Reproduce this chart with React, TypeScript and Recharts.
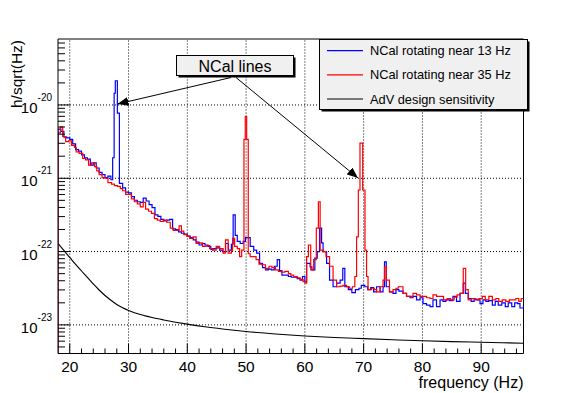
import React from 'react';
import { LineChart, Line, XAxis, YAxis, ReferenceLine } from 'recharts';

// ---- data (frequency in Hz, log10 of strain amplitude h/sqrt(Hz)) ----
const blueSpectrum: [number, number][] = [
  [18, -20.33], [18.5, -20.36], [19, -20.44], [19.5, -20.45], [20, -20.47], [20.5, -20.53], [21, -20.61], [21.5, -20.63],
  [22, -20.68], [22.5, -20.72], [23, -20.74], [23.5, -20.82], [24, -20.79], [24.5, -20.86], [25, -20.92], [25.5, -20.95],
  [26, -20.99], [26.5, -20.97], [27, -21.02], [27.3, -20.72], [27.55, -19.84], [27.75, -19.67], [28.1, -20.11], [28.45, -21.07],
  [29, -21.13], [29.5, -21.19], [30, -21.2], [30.5, -21.25], [31, -21.3], [31.5, -21.32], [32, -21.33], [32.5, -21.27],
  [33, -21.31], [33.5, -21.36], [34, -21.4], [34.5, -21.5], [35, -21.52], [35.5, -21.56], [36, -21.58], [36.5, -21.57],
  [37, -21.56], [37.5, -21.69], [38, -21.7], [38.5, -21.73], [39, -21.75], [39.5, -21.76], [40, -21.79], [40.5, -21.81],
  [41, -21.84], [41.5, -21.87], [42, -21.91], [42.5, -21.89], [43, -21.91], [43.5, -21.93], [44, -21.97], [44.5, -21.96],
  [45, -21.95], [45.5, -21.98], [46, -22.0], [46.5, -21.89], [47, -21.98], [47.5, -21.9], [47.8, -21.5], [48.15, -21.78],
  [48.5, -21.86], [49, -21.89], [49.5, -21.86], [49.9, -21.81], [50.7, -21.93], [51.3, -21.98], [51.8, -22.02], [52.3, -22.16],
  [52.8, -22.22], [53.3, -22.25], [53.8, -22.24], [54.3, -22.25], [54.8, -22.2], [55.3, -22.11], [55.7, -22.26], [56.1, -22.32],
  [56.6, -22.32], [57.2, -22.34], [57.7, -22.35], [58.2, -22.35], [58.7, -22.37], [59.2, -22.39], [59.6, -22.34], [60, -22.41],
  [60.3, -22.16], [60.9, -22.21], [61.2, -22.25], [61.7, -22.09], [62.1, -22.0], [62.5, -21.68], [62.85, -21.88], [63.1, -22.0],
  [63.7, -22.16], [64.2, -22.39], [64.8, -22.48], [65.4, -22.43], [66, -22.39], [66.45, -22.23], [66.8, -22.48], [67.4, -22.52],
  [68, -22.56], [68.6, -22.52], [69.2, -22.5], [69.6, -22.46], [70.2, -22.48], [70.7, -22.52], [71.2, -22.49], [71.7, -22.55],
  [72.2, -22.48], [72.8, -22.55], [73.3, -22.48], [73.55, -22.14], [73.85, -22.48], [74.4, -22.55], [75, -22.57], [75.5, -22.52],
  [76, -22.54], [76.7, -22.57], [77.3, -22.61], [77.9, -22.63], [78.4, -22.61], [79, -22.66], [79.6, -22.63], [80.1, -22.71],
  [80.7, -22.73], [81.3, -22.75], [81.8, -22.66], [82.4, -22.75], [83, -22.66], [83.5, -22.68], [84, -22.66], [84.6, -22.67],
  [85.2, -22.61], [85.8, -22.68], [86.4, -22.57], [86.95, -22.43], [87.3, -22.57], [87.8, -22.64], [88.3, -22.68], [88.8, -22.65],
  [89.3, -22.66], [89.8, -22.71], [90.3, -22.66], [90.8, -22.68], [91.3, -22.67], [91.9, -22.73], [92.4, -22.68], [92.9, -22.73],
  [93.5, -22.7], [94.1, -22.75], [94.6, -22.7], [95.2, -22.75], [95.7, -22.7], [96.2, -22.71], [96.6, -22.77], [97.2, -22.73],
];

const redSpectrum: [number, number][] = [
  [18, -20.38], [18.4, -20.3], [18.8, -20.43], [19.3, -20.5], [19.8, -20.49], [20.3, -20.55], [20.8, -20.58], [21.1, -20.64],
  [21.6, -20.66], [22.2, -20.73], [22.7, -20.75], [23.2, -20.82], [23.7, -20.79], [24.2, -20.84], [24.6, -20.9], [25, -20.95],
  [25.5, -20.99], [26, -21.0], [26.5, -21.06], [27.1, -21.08], [27.6, -21.1], [28.1, -21.11], [28.6, -21.14], [29, -21.17],
  [29.5, -21.22], [30, -21.22], [30.5, -21.28], [31, -21.32], [31.5, -21.35], [32, -21.39], [32.5, -21.33], [32.9, -21.42],
  [33.4, -21.45], [33.9, -21.48], [34.4, -21.55], [34.9, -21.57], [35.4, -21.59], [35.9, -21.57], [36.5, -21.6], [37.1, -21.68],
  [37.6, -21.71], [38.2, -21.71], [38.6, -21.65], [39, -21.72], [39.4, -21.77], [39.9, -21.79], [40.4, -21.82], [41, -21.8],
  [41.5, -21.89], [42.1, -21.88], [42.6, -21.93], [43.2, -21.92], [43.8, -21.96], [44.3, -21.98], [44.9, -21.93], [45.5, -21.96],
  [46.1, -22.02], [46.5, -21.84], [46.95, -22.02], [47.5, -21.98], [47.7, -21.82], [48.05, -21.93], [48.5, -21.96], [48.9, -22.07],
  [49.25, -21.98], [49.64, -20.47], [49.86, -20.16], [50.1, -20.47], [50.37, -22.03], [50.7, -22.07], [51.2, -22.07], [51.7, -22.11],
  [52.2, -22.17], [52.7, -22.18], [53.3, -22.23], [53.9, -22.2], [54.4, -22.22], [55, -22.25], [55.5, -22.27], [56, -22.28],
  [56.6, -22.27], [57.2, -22.3], [57.6, -22.32], [58.1, -22.34], [58.7, -22.36], [59.2, -22.38], [59.7, -22.41], [60, -22.43],
  [60.3, -22.07], [60.6, -21.91], [61, -22.25], [61.5, -22.11], [61.95, -21.68], [62.3, -21.32], [62.6, -21.98], [63.1, -22.0],
  [63.6, -22.07], [64.2, -22.2], [64.8, -22.39], [65.4, -22.48], [66, -22.47], [66.5, -22.46], [67.1, -22.48], [67.6, -22.5],
  [68.1, -22.48], [68.5, -22.34], [68.8, -21.8], [69.1, -21.16], [69.38, -20.52], [69.84, -21.16], [70.23, -21.98], [70.5, -22.34],
  [70.75, -22.52], [71.3, -22.5], [71.8, -22.52], [72.2, -22.55], [72.8, -22.48], [73.3, -22.39], [73.55, -22.21], [73.85, -22.39],
  [74.4, -22.55], [75, -22.52], [75.5, -22.5], [75.9, -22.48], [76.7, -22.57], [77.3, -22.61], [77.9, -22.61], [78.4, -22.57],
  [79, -22.59], [79.6, -22.61], [80.1, -22.61], [80.7, -22.63], [81.3, -22.64], [81.8, -22.59], [82.4, -22.61], [83, -22.61],
  [83.6, -22.66], [84.2, -22.64], [84.8, -22.66], [85.4, -22.62], [85.9, -22.59], [86.4, -22.57], [86.95, -22.23], [87.36, -22.52],
  [87.8, -22.66], [88.4, -22.64], [89, -22.66], [89.6, -22.64], [90.2, -22.61], [90.7, -22.66], [91.3, -22.61], [91.9, -22.66],
  [92.5, -22.64], [93, -22.68], [93.6, -22.66], [94.2, -22.68], [94.8, -22.66], [95.3, -22.66], [95.9, -22.64], [96.4, -22.68],
  [96.8, -22.64], [97.2, -22.64],
];

const advDesign: [number, number][] = [
  [18, -21.887], [19, -21.985], [20, -22.08], [21, -22.176], [22, -22.265], [23, -22.353], [24, -22.442], [25, -22.524],
  [26, -22.599], [27, -22.664], [28, -22.722], [29, -22.767], [30, -22.804], [31, -22.834], [32, -22.859], [33, -22.881],
  [34, -22.9], [36, -22.933], [38, -22.963], [40, -22.99], [43, -23.026], [46, -23.056], [50, -23.09], [55, -23.124],
  [60, -23.151], [65, -23.172], [70, -23.188], [75, -23.203], [80, -23.217], [85, -23.228], [90, -23.237], [97.2, -23.25],
];

const xTicks = [20, 22, 24, 26, 28, 30, 32, 34, 36, 38, 40, 42, 44, 46, 48, 50, 52, 54, 56, 58, 60, 62, 64, 66, 68, 70,
  72, 74, 76, 78, 80, 82, 84, 86, 88, 90, 92, 94, 96];
const yTicks = [5e-24, 6e-24, 7e-24, 8e-24, 9e-24, 1e-23, 2e-23, 3e-23, 4e-23, 5e-23, 6e-23, 7e-23, 8e-23, 9e-23,
  1e-22, 2e-22, 3e-22, 4e-22, 5e-22, 6e-22, 7e-22, 8e-22, 9e-22, 1e-21, 2e-21, 3e-21, 4e-21, 5e-21, 6e-21, 7e-21,
  8e-21, 9e-21, 1e-20, 2e-20, 3e-20, 4e-20, 5e-20, 6e-20, 7e-20];
const xGrid = [20, 30, 40, 50, 60, 70, 80, 90];
const yGrid = [1e-23, 1e-22, 1e-21, 1e-20];

const legendItems = [
  { label: 'NCal rotating near 13 Hz', color: '#0000ff' },
  { label: 'NCal rotating near 35 Hz', color: '#ff0000' },
  { label: 'AdV design sensitivity', color: '#000000' },
];

// ---- layout ----
const W = 581;
const H = 393;
const X_MIN = 18;
const X_MAX = 97.2;
const Y_MIN = 4.07e-24;
const Y_MAX = 7.94e-20;
const PL = 58;
const PT = 39;
const PR = 523.5;
const PB = 353.5;
const FONT = "'Liberation Sans', Arial, Helvetica, sans-serif";

const toHist = (pairs: [number, number][]) => [
  { f: X_MIN, v: Y_MIN },
  ...pairs.map(([f, l]) => ({ f, v: Math.pow(10, l) })),
];
const toCurve = (pairs: [number, number][]) => pairs.map(([f, l]) => ({ f, v: Math.pow(10, l) }));

const blueData = toHist(blueSpectrum);
const redData = toHist(redSpectrum);
const blackData = toCurve(advDesign);

const XTick = (props: any) => {
  const { x, payload } = props;
  const v = payload.value as number;
  const major = v % 10 === 0;
  return (
    <g>
      <line x1={x} x2={x} y1={PB} y2={PB - (major ? 10 : 5)} stroke="#000" strokeWidth={1} />
      {major && (
        <text x={x} y={372} textAnchor="middle" fontSize={15.5} fontFamily={FONT} fill="#000">
          {v}
        </text>
      )}
    </g>
  );
};

const YTick = (props: any) => {
  const { y, payload } = props;
  const v = payload.value as number;
  const e = Math.log10(v);
  const major = Math.abs(e - Math.round(e)) < 1e-6;
  return (
    <g>
      <line x1={PL} x2={PL + (major ? 12 : 7)} y1={y} y2={y} stroke="#000" strokeWidth={1} />
      {major && (
        <text x={52} y={y + 8} textAnchor="end" fontSize={15} fontFamily={FONT} fill="#000">
          <tspan>10</tspan>
          <tspan dy={-12} fontSize={10}>{String(Math.round(e))}</tspan>
        </text>
      )}
    </g>
  );
};

export default function App() {
  return (
    <div style={{ position: 'absolute', left: 0, top: 0, width: W, height: H, background: '#fff' }}>
      <LineChart
        width={W}
        height={H}
        margin={{ top: PT, right: W - PR, bottom: 0, left: 0 }}
      >
        <XAxis
          dataKey="f"
          type="number"
          domain={[X_MIN, X_MAX]}
          allowDataOverflow
          ticks={xTicks}
          interval={0}
          height={H - PB}
          tickLine={false}
          tickSize={0}
          tickMargin={0}
          axisLine={{ stroke: '#000', strokeWidth: 1 }}
          tick={<XTick />}
        />
        <YAxis
          type="number"
          scale="log"
          domain={[Y_MIN, Y_MAX]}
          allowDataOverflow
          ticks={yTicks}
          interval={0}
          width={PL}
          tickLine={false}
          tickSize={0}
          tickMargin={0}
          axisLine={{ stroke: '#000', strokeWidth: 1 }}
          tick={<YTick />}
        />
        {xGrid.map((g) => (
          <ReferenceLine key={'xg' + g} x={g} stroke="#000" strokeWidth={1} strokeDasharray="1 2" />
        ))}
        {yGrid.map((g) => (
          <ReferenceLine key={'yg' + g} y={g} stroke="#000" strokeWidth={1} strokeDasharray="1 2" />
        ))}
        <ReferenceLine y={Y_MAX} stroke="#000" strokeWidth={1} ifOverflow="visible" />
        <ReferenceLine x={X_MAX} stroke="#000" strokeWidth={1} ifOverflow="visible" />
        <Line data={blackData} dataKey="v" type="monotone" stroke="#000" strokeWidth={1.1} dot={false} isAnimationActive={false} />
        <Line data={blueData} dataKey="v" type="stepAfter" stroke="#0000ff" strokeWidth={1.2} dot={false} isAnimationActive={false} />
        <Line data={redData} dataKey="v" type="stepAfter" stroke="#ff0000" strokeWidth={1.2} dot={false} isAnimationActive={false} />
      </LineChart>
      <svg
        width={W}
        height={H}
        style={{ position: 'absolute', left: 0, top: 0, pointerEvents: 'none' }}
      >
        <defs>
          <marker id="ah" markerWidth="11" markerHeight="9" refX="11" refY="4.5" orient="auto" markerUnits="userSpaceOnUse">
            <path d="M0,0 L11,4.5 L0,9 z" fill="#000" />
          </marker>
        </defs>
        {/* axis titles */}
        <text x={PR} y={388} textAnchor="end" fontSize={16} fontFamily={FONT} fill="#000">frequency (Hz)</text>
        <text transform="translate(21.5,40) rotate(-90)" textAnchor="end" fontSize={15.5} fontFamily={FONT} fill="#000">h/sqrt(Hz)</text>
        {/* annotation */}
        <line x1={231} y1={77.5} x2={117.5} y2={104} stroke="#000" strokeWidth={1} markerEnd="url(#ah)" />
        <line x1={236} y1={77.5} x2={358} y2={178} stroke="#000" strokeWidth={1} markerEnd="url(#ah)" />
        <rect x={178.5} y={57.5} width={117} height={20} fill="#000" />
        <rect x={176.5} y={55.5} width={117} height={20} fill="#f0f0f0" stroke="#000" strokeWidth={1} />
        <text x={235} y={71.5} textAnchor="middle" fontSize={16} fontFamily={FONT} fill="#000">NCal lines</text>
        {/* legend */}
        <rect x={321.5} y={41.5} width={208} height={70} fill="#000" />
        <rect x={319.5} y={39.5} width={208} height={70} fill="#f0f0f0" stroke="#000" strokeWidth={1} />
        {legendItems.map((it, i) => {
          const cy = [50.7, 74.8, 99][i];
          return (
            <g key={it.label}>
              <line x1={327} x2={363} y1={cy} y2={cy} stroke={it.color} strokeWidth={1.2} />
              <text x={370} y={cy + 4.5} fontSize={12.8} fontFamily={FONT} fill="#000">{it.label}</text>
            </g>
          );
        })}
      </svg>
    </div>
  );
}
